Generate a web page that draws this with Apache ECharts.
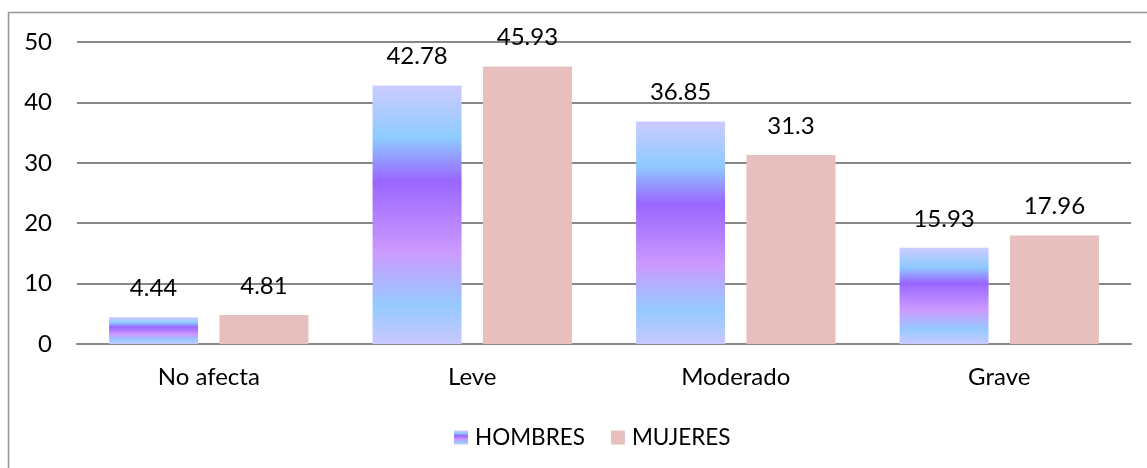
<!DOCTYPE html>
<html>
<head>
<meta charset="utf-8">
<script src="https://cdn.jsdelivr.net/npm/echarts@6/dist/echarts.min.js"></script>
<style>
html,body{margin:0;padding:0;background:#fff;}
#c{width:1147px;height:468px;}
</style>
</head>
<body>
<div id="c"></div>
<script>
const categories = ['No afecta', 'Leve', 'Moderado', 'Grave'];
const hombres = [4.44, 42.78, 36.85, 15.93];
const mujeres = [4.81, 45.93, 31.3, 17.96];
const seriesNames = ['HOMBRES', 'MUJERES'];

const chart = echarts.init(document.getElementById('c'));
const font = 'Lato';
const fs = 24;
const hombresColor = new echarts.graphic.LinearGradient(0, 0, 0, 1, [
  {offset: 0, color: '#cccbff'},
  {offset: 0.2, color: '#8fcbff'},
  {offset: 0.37, color: '#9966ff'},
  {offset: 0.64, color: '#cc99ff'},
  {offset: 0.85, color: '#96caff'},
  {offset: 1, color: '#c8c8ff'}
]);
const mujeresColor = '#e8bfbf';

chart.setOption({
  animation: false,
  graphic: [{
    type: 'rect',
    shape: {x: 8.5, y: 12.5, width: 1200, height: 500},
    style: {fill: 'none', stroke: '#969696', lineWidth: 1.5},
    silent: true, z: -1
  }],
  grid: {left: 77, right: 16, top: 42, bottom: 124, containLabel: false},
  legend: {
    data: seriesNames,
    left: 449, top: 421,
    itemWidth: 14, itemHeight: 14, itemGap: 26,
    icon: 'rect',
    textStyle: {fontFamily: font, fontSize: 22.5, color: '#000', padding: [0, 0, 0, 2]}
  },
  xAxis: {
    type: 'category',
    data: categories,
    axisLine: {show: true, lineStyle: {color: '#888', width: 2}},
    axisTick: {show: false},
    axisLabel: {fontFamily: font, fontSize: fs, color: '#000', margin: 21}
  },
  yAxis: {
    type: 'value',
    min: 0, max: 50, interval: 10,
    axisLine: {show: false},
    axisTick: {show: false},
    axisLabel: {fontFamily: font, fontSize: fs, color: '#000', margin: 25},
    splitLine: {lineStyle: {color: '#888', width: 2}}
  },
  series: [
    {
      name: seriesNames[0], type: 'bar', data: hombres,
      barWidth: 89, barGap: '24%',
      itemStyle: {color: hombresColor},
      label: {show: true, position: 'top', distance: 17, fontFamily: font, fontSize: fs, color: '#000'}
    },
    {
      name: seriesNames[1], type: 'bar', data: mujeres,
      barWidth: 89,
      itemStyle: {color: mujeresColor},
      label: {show: true, position: 'top', distance: 17, fontFamily: font, fontSize: fs, color: '#000'}
    }
  ]
});
</script>
</body>
</html>
